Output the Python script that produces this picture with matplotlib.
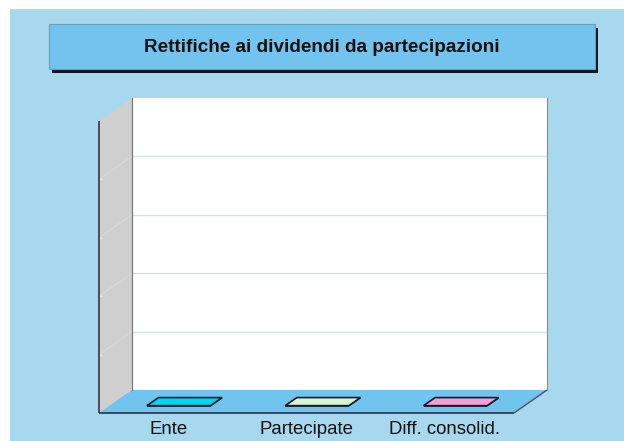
import numpy as np
import matplotlib.pyplot as plt
from matplotlib.patches import Polygon, Rectangle
from matplotlib.transforms import IdentityTransform

plt.rcParams['font.family'] = ['Liberation Sans', 'DejaVu Sans']

# dati
categorie = ['Ente', 'Partecipate', 'Diff. consolid.']
valori = [0, 0, 0]
colori = ['#00D8F2', '#D8F6D2', '#F2A0D8']
titolo = 'Rettifiche ai dividendi da partecipazioni'
ymax = 1.0
passo = 0.2

W, H = 624, 441
DX, DY = 33, 23        # profondita' delle pareti 3D (px)
DF, DB = 0.68, 0.33    # profondita' fronte / retro delle barre
BW = 0.46              # larghezza barre

fig = plt.figure(figsize=(W / 100, H / 100), dpi=100)
fig.patch.set_facecolor('white')

# sfondo e riquadro del titolo
bg = fig.add_axes([0, 0, 1, 1])
bg.set_xlim(0, W)
bg.set_ylim(H, 0)
bg.axis('off')
bg.add_patch(Rectangle((10, 9), W - 10, H - 9, fc='#A8D8EE', ec='none'))
bg.add_patch(Rectangle((52, 28), 546, 45, fc='#141428', ec='none'))
bg.add_patch(Rectangle((49, 24), 546, 45, fc='#72C4EE', ec='#6A9FC0', lw=0.8))
bg.text(322, 52, titolo, ha='center', va='baseline', fontsize=13.6,
        fontweight='bold', color='#111111')

# parete di fondo = area del grafico
ax = fig.add_axes([132 / W, 1 - 390 / H, 415 / W, 292 / H])
ax.set_xlim(-0.5, len(categorie) - 0.5)
ax.set_ylim(0, ymax)
ax.set_facecolor('white')
griglia = np.arange(passo, ymax, passo)
ax.set_yticks(griglia)
ax.set_xticks([])
ax.yaxis.grid(True, color='#CFE2EA', lw=1)
ax.tick_params(left=False, labelleft=False)
for s in ['top', 'bottom']:
    ax.spines[s].set_visible(False)
ax.spines['left'].set_color('#707070')
ax.spines['right'].set_color('#8A8A8A')


def proj(x, y, d):
    px, py = ax.transData.transform((x, y))
    return (px - DX * d, py - DY * d)


def poly(pts, **kw):
    ax.add_patch(Polygon(pts, closed=True, transform=IdentityTransform(),
                         clip_on=False, **kw))


def linea(p, q, **kw):
    ax.plot([p[0], q[0]], [p[1], q[1]], transform=IdentityTransform(),
            clip_on=False, solid_capstyle='butt', **kw)


x0, x1 = ax.get_xlim()

# parete laterale
poly([proj(x0, 0, 0), proj(x0, ymax, 0), proj(x0, ymax, 1), proj(x0, 0, 1)],
     fc='#CFCFCF', ec='none', zorder=0)
for g in griglia:
    linea(proj(x0, g, 0), proj(x0, g, 1), color='#D8D8D8', lw=0.8, zorder=0.5)
    a = proj(x0, g, 1)
    linea(a, (a[0] + 3, a[1]), color='#E6E6E6', lw=1, zorder=1)
linea(proj(x0, 0, 1), proj(x0, ymax, 1), color='#404058', lw=1.3, zorder=2)

# pavimento
poly([proj(x0, 0, 0), proj(x1, 0, 0), proj(x1, 0, 1), proj(x0, 0, 1)],
     fc='#70C4EE', ec='none', zorder=0)
linea(proj(x0, 0, 1), proj(x1, 0, 1), color='#303048', lw=1.2, zorder=2)
linea(proj(x1, 0, 1), proj(x1, 0, 0), color='#505060', lw=1, zorder=2)

# barre
for i, (v, c) in enumerate(zip(valori, colori)):
    a, b = i - BW / 2, i + BW / 2
    fronte = [proj(a, 0, DF), proj(b, 0, DF), proj(b, v, DF), proj(a, v, DF)]
    lato = [proj(b, 0, DF), proj(b, 0, DB), proj(b, v, DB), proj(b, v, DF)]
    cima = [proj(a, v, DF), proj(b, v, DF), proj(b, v, DB), proj(a, v, DB)]
    poly(fronte, fc=c, ec='#1A1A2A', lw=1.2, zorder=3)
    poly(lato, fc=c, ec='#1A1A2A', lw=1.2, zorder=3)
    poly(cima, fc=c, ec='#1A1A2A', lw=1.2, zorder=4)

# etichette categorie
for i, nome in enumerate(categorie):
    px, py = proj(i, 0, 1)
    ax.text(px, py - 21, nome, ha='center', va='baseline', fontsize=13.4,
            color='#111111', transform=IdentityTransform(), clip_on=False)

fig.savefig('out.png', dpi=100)
